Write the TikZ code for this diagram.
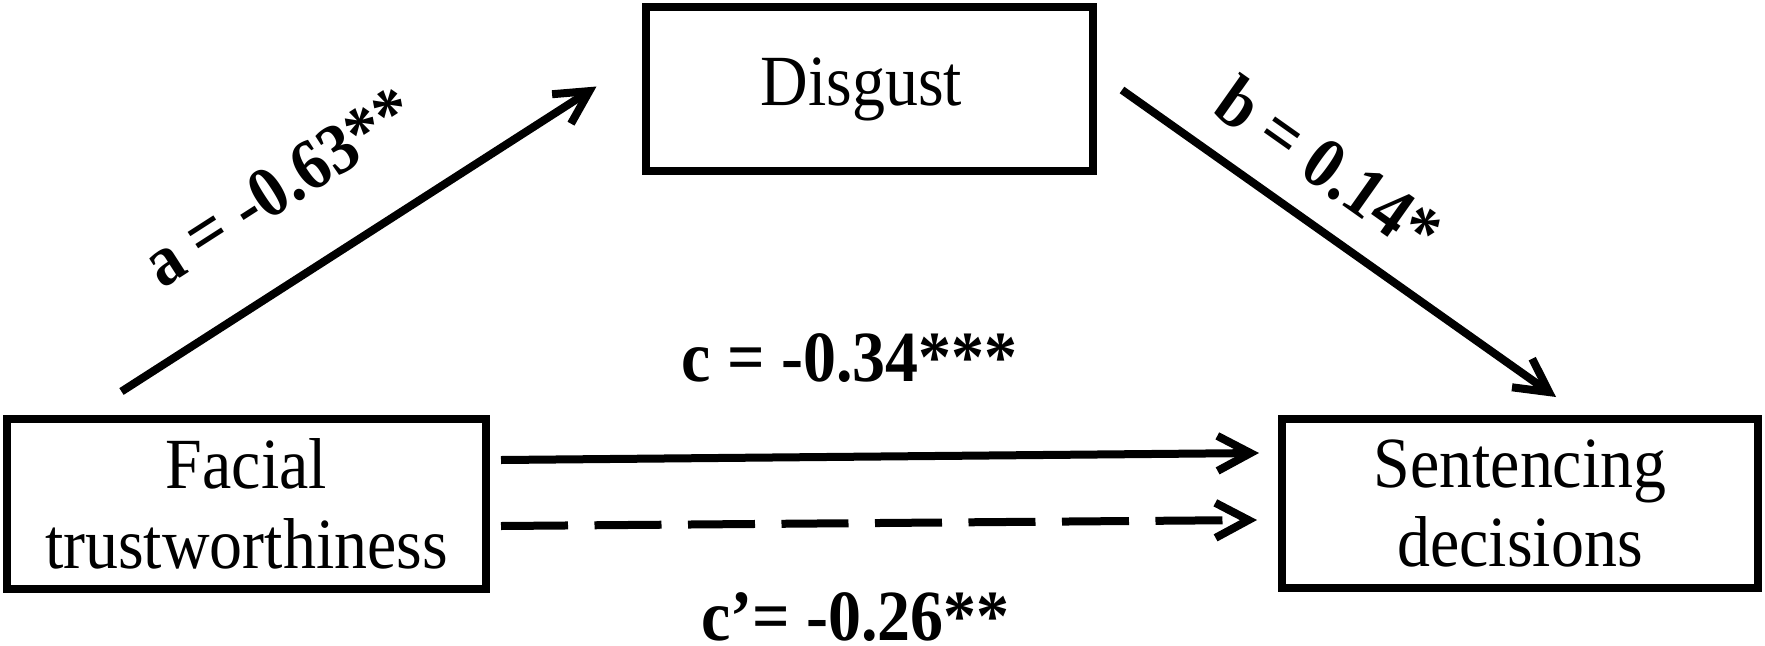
\documentclass[tikz,border=0pt]{standalone}
\usepackage{fontspec}
\setmainfont{Liberation Serif}[FakeStretch=0.915]
\usepackage{tikz}
\usetikzlibrary{positioning,arrows.meta}

\tikzset{
	varbox/.style={draw, line width=0.16cm, align=center, inner sep=0pt,
		font=\fontsize{41}{45.5}\selectfont},
	effect/.style={line width=0.16cm, -{Straight Barb[length=0.66cm, width=0.7cm]}},
	coef/.style={inner sep=0pt, font=\fontsize{41}{45.5}\selectfont\bfseries},
}

\begin{document}
\begin{tikzpicture}

\useasboundingbox (0,0) rectangle (35.3,-12.9);

% Facial trustworthiness
\node [varbox,
	minimum width=9.58cm,
	minimum height=3.4cm
] (facial) at (4.93, -10.08) {
Facial\\
trustworthiness
};

% Disgust
\node [varbox,
	minimum width=8.94cm,
	minimum height=3.28cm
] (disgust) at (17.39, -1.78) {
Disgust
};

% Sentencing decisions
\node [varbox,
	minimum width=9.52cm,
	minimum height=3.38cm
] (sentencing) at (30.4, -10.07) {
Sentencing\\
decisions
};


% Paths with coefficients

\draw[effect] ([xshift=-2.5cm, yshift=0.47cm]facial.north) -- ([xshift=-0.91cm, yshift=0.05cm]disgust.west) node[pos=0.43, sloped, above=1.18cm, coef] {a = -0.63**};

\draw[effect] ([xshift=0.5cm, yshift=-0.02cm]disgust.east) -- ([xshift=0.72cm, yshift=0.36cm]sentencing.north) node[pos=0.4, sloped, above=0.56cm, coef] {b = 0.14*};

\draw[effect] ([xshift=0.22cm, yshift=0.88cm]facial.east) -- ([xshift=-0.38cm, yshift=1.01cm]sentencing.west) node[pos=0.46, above=1.4cm, coef] {c = -0.34***};

\draw[effect, dash pattern=on 1.34cm off 0.53cm] ([xshift=0.22cm, yshift=-0.44cm]facial.east) -- ([xshift=-0.42cm, yshift=-0.33cm]sentencing.west) node[pos=0.469, below=1.3cm, coef] {c’= -0.26**};

\end{tikzpicture}
\end{document}
